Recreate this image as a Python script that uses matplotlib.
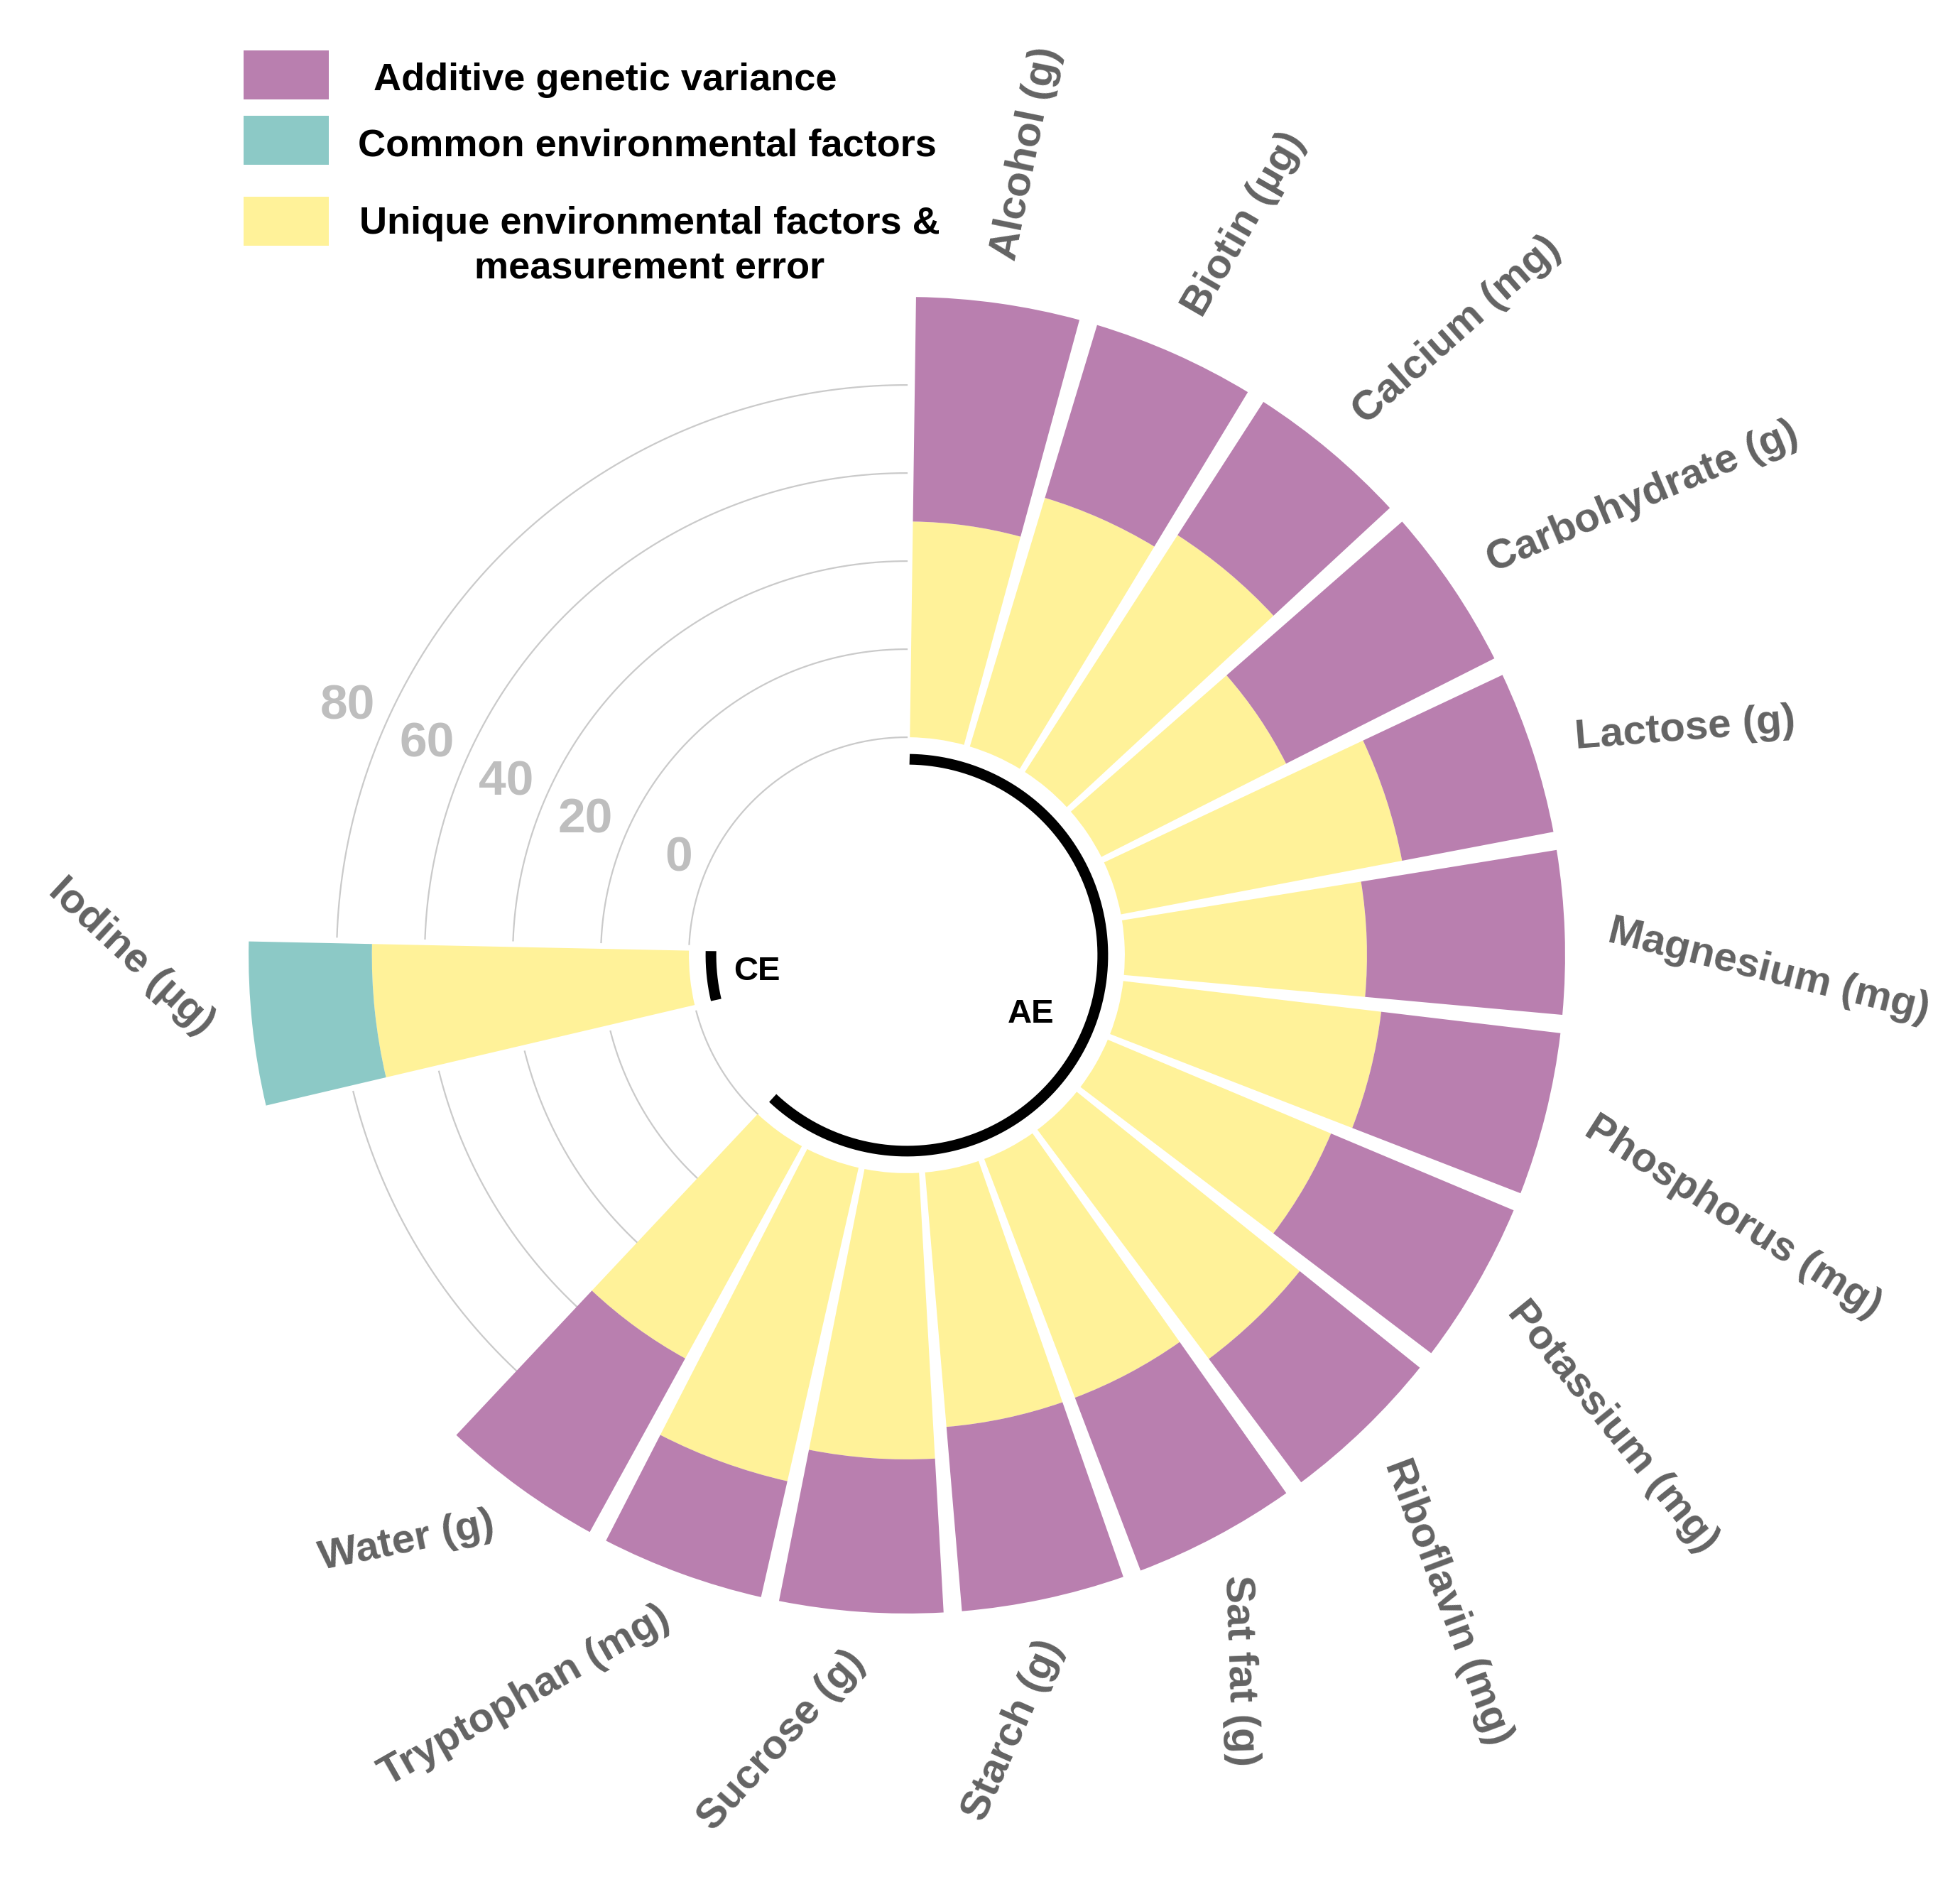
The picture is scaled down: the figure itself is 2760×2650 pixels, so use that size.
import numpy as np
import matplotlib
matplotlib.use("Agg")
import matplotlib.pyplot as plt
from matplotlib.patches import Rectangle
from matplotlib.transforms import offset_copy

# ---------------- data ----------------
ae_labels = ["Alcohol (g)", "Biotin (µg)", "Calcium (mg)", "Carbohydrate (g)",
             "Lactose (g)", "Magnesium (mg)", "Phosphorus (mg)", "Potassium (mg)",
             "Riboflavin (mg)", "Sat fat (g)", "Starch (g)", "Sucrose (g)",
             "Tryptophan (mg)", "Water (g)"]
ae_unique = [49, 59, 64, 47, 65, 55, 59, 55, 65, 58, 58, 65, 73, 55]
ae_additive = [51, 41, 36, 53, 35, 45, 41, 45, 35, 42, 42, 35, 27, 45]

ce_labels = ["Iodine (µg)"]
ce_unique = [72]
ce_common = [28]

grid_values = [0, 20, 40, 60, 80]
group_names = ["AE", "CE"]
legend_labels = ["Additive genetic variance",
                 "Common environmental factors",
                 "Unique environmental factors &\nmeasurement error"]

# ---------------- style ----------------
PURPLE = "#B97FAF"
TEAL = "#8CC9C6"
YELLOW = "#FFF299"
LABEL_GREY = "#636363"
GRID_GREY = "#CACACA"
GRID_TEXT = "#BEBEBE"

plt.rcParams['font.family'] = ['Liberation Sans', 'DejaVu Sans']
plt.rcParams['font.weight'] = 'bold'

W, H = 2760, 2650
DPI = 100
fig = plt.figure(figsize=(W / DPI, H / DPI), dpi=DPI)
fig.patch.set_facecolor('white')

# slot layout (angular positions)
n_slots = 22.5
slot_deg = 360.0 / n_slots
ae_slots = np.arange(len(ae_labels))
ce_slots = np.array([16])


def slot_theta(s):
    return np.deg2rad((np.asarray(s) + 0.5) * slot_deg)


bar_w = np.deg2rad(0.9 * slot_deg)

# polar axes geometry
cx, cy = 1277, 1345
px_per_unit = 6.2
r_origin = -49.5
r_max = 105
R = px_per_unit * (r_max - r_origin)
ax = fig.add_axes([(cx - R) / W, (H - cy - R) / H, 2 * R / W, 2 * R / H],
                  projection='polar')
ax.set_theta_zero_location('N')
ax.set_theta_direction(-1)
ax.set_ylim(r_origin, r_max)
ax.axis('off')

th_ae = slot_theta(ae_slots)
th_ce = slot_theta(ce_slots)

# grid arcs in the empty part of the circle
ae_end = th_ae[-1] + bar_w / 2
ce_start = th_ce[0] - bar_w / 2
ce_end = th_ce[-1] + bar_w / 2
for v in grid_values:
    rpx = px_per_unit * (v - r_origin)
    gap = 9.0 / rpx
    for a, b in [(ae_end, ce_start - gap), (ce_end + gap, 2 * np.pi)]:
        t = np.linspace(a, b, 400)
        ax.plot(t, np.full_like(t, v), color=GRID_GREY, lw=1.6, zorder=1)

# stacked bars
ax.bar(th_ae, ae_unique, width=bar_w, bottom=0, color=YELLOW, lw=0, zorder=2)
ax.bar(th_ae, ae_additive, width=bar_w, bottom=ae_unique, color=PURPLE, lw=0, zorder=2)
ax.bar(th_ce, ce_unique, width=bar_w, bottom=0, color=YELLOW, lw=0, zorder=2)
ax.bar(th_ce, ce_common, width=bar_w, bottom=ce_unique, color=TEAL, lw=0, zorder=2)

# group arcs
for slots in (ae_slots, ce_slots):
    t = np.linspace(slot_theta(slots[0]) - bar_w / 2, slot_theta(slots[-1]) + bar_w / 2, 400)
    ax.plot(t, np.full_like(t, -5), color='black', lw=10.8,
            solid_capstyle='butt', zorder=3)

# group names
down = offset_copy(ax.transData, fig=fig, x=0, y=-5, units='dots')
ax.text(np.mean(th_ae) + np.deg2rad(2), -18.7, group_names[0], ha='center', va='center',
        fontsize=34, fontweight='bold', color='black', transform=down)
ax.text(th_ce[0] + np.deg2rad(1), -15.3, group_names[1], ha='center', va='center',
        fontsize=34, fontweight='bold', color='black', transform=down)

# bar labels
all_labels = ae_labels + ce_labels
all_slots = list(ae_slots) + list(ce_slots)
for lab, s in zip(all_labels, all_slots):
    rot = 78.5 - 18.5 * s
    ha = 'left'
    if rot < -90:
        rot = 67.5 - 18.15 * s + 180
        ha = 'right'
    ax.text(slot_theta(s), 110, lab, rotation=rot, rotation_mode='anchor',
            ha=ha, va='center', fontsize=42, fontweight='bold', color=LABEL_GREY)

# grid value labels
down7 = offset_copy(ax.transData, fig=fig, x=0, y=-7, units='dots')
for v in grid_values:
    ax.text(np.deg2rad(295.5), v + 4.4, str(v), ha='right', va='center',
            fontsize=50, fontweight='bold', color=GRID_TEXT, transform=down7)

# ---------------- legend (figure pixels) ----------------
def fx(x):
    return x / W


def fy(y):
    return 1 - y / H


legend_colors = [PURPLE, TEAL, YELLOW]
box_tops = [71, 163, 277]
box_h = 69
for col, top in zip(legend_colors, box_tops):
    fig.patches.append(Rectangle((fx(343), fy(top + box_h)), fx(120), box_h / H,
                                 transform=fig.transFigure, facecolor=col,
                                 edgecolor='none'))

fig.text(fx(526), fy(113), legend_labels[0], ha='left', va='center',
         fontsize=39, fontweight='bold', color='black')
fig.text(fx(504), fy(205), legend_labels[1], ha='left', va='center',
         fontsize=39, fontweight='bold', color='black')
line1, line2 = legend_labels[2].split("\n")
fig.text(fx(915), fy(315), line1, ha='center', va='center',
         fontsize=39, fontweight='bold', color='black')
fig.text(fx(915), fy(377), line2, ha='center', va='center',
         fontsize=39, fontweight='bold', color='black')

fig.savefig("out.png", dpi=DPI, facecolor='white')
